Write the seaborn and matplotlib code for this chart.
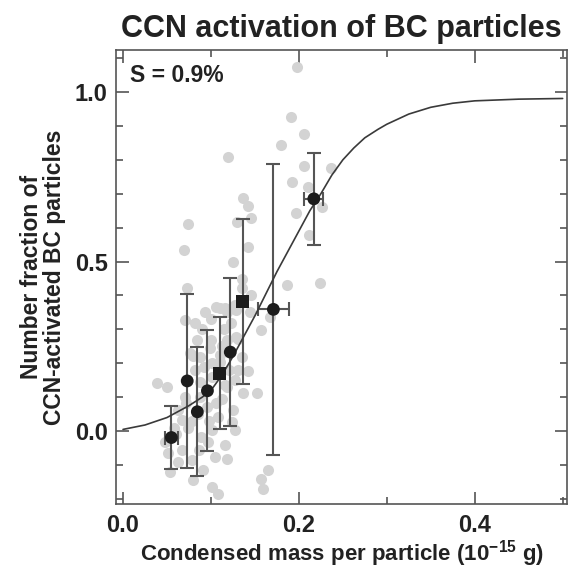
import matplotlib
matplotlib.use('Agg')
import matplotlib.pyplot as plt
import seaborn as sns
import numpy as np
import pandas as pd
from matplotlib.ticker import MultipleLocator

# 灰色散点（单个颗粒的观测值）
grey_x = [0.198, 0.191, 0.206, 0.180, 0.119, 0.206, 0.236, 0.192, 0.210, 0.137,
          0.142, 0.145, 0.130, 0.074, 0.197, 0.226, 0.212, 0.069, 0.142, 0.125,
          0.135, 0.224, 0.187, 0.073, 0.135, 0.146, 0.127, 0.144, 0.157, 0.167,
          0.131, 0.129, 0.118, 0.110, 0.093, 0.082, 0.070, 0.106, 0.118, 0.129,
          0.084, 0.099, 0.080, 0.110, 0.131, 0.118, 0.070, 0.101, 0.0875, 0.106,
          0.125, 0.067, 0.039, 0.050, 0.048, 0.051, 0.063, 0.053, 0.078, 0.086,
          0.080, 0.101, 0.108, 0.091, 0.105, 0.118, 0.116, 0.089, 0.101, 0.074,
          0.108, 0.124, 0.0875, 0.072, 0.063, 0.082, 0.101, 0.116, 0.127, 0.112,
          0.076, 0.0875, 0.110, 0.135, 0.142, 0.136, 0.152, 0.127, 0.165, 0.157,
          0.159, 0.067, 0.097, 0.116, 0.090, 0.100, 0.085, 0.095, 0.078, 0.060,
          0.115, 0.123, 0.100, 0.092, 0.112, 0.058, 0.120, 0.098]
grey_y = [1.075, 0.927, 0.876, 0.843, 0.807, 0.782, 0.777, 0.735, 0.721, 0.688,
          0.663, 0.629, 0.617, 0.611, 0.642, 0.660, 0.578, 0.534, 0.544, 0.498,
          0.450, 0.437, 0.431, 0.421, 0.421, 0.400, 0.372, 0.352, 0.297, 0.337,
          0.273, 0.357, 0.352, 0.362, 0.352, 0.318, 0.327, 0.367, 0.268, 0.278,
          0.268, 0.244, 0.222, 0.204, 0.180, 0.131, 0.101, 0.160, 0.145, 0.082,
          0.062, 0.032, 0.142, 0.131, -0.032, -0.066, -0.090, -0.120, -0.086, -0.056,
          -0.145, -0.164, -0.186, -0.115, -0.076, -0.081, -0.041, -0.017, 0.003, 0.008,
          0.042, 0.027, 0.101, 0.082, 0.062, 0.180, 0.200, 0.136, 0.150, 0.096,
          0.229, 0.219, 0.224, 0.219, 0.178, 0.113, 0.113, 0.003, -0.115, -0.140,
          -0.172, -0.056, -0.032, 0.362, 0.300, 0.330, 0.050, 0.070, 0.030, -0.010,
          0.300, 0.320, 0.270, 0.190, 0.250, 0.010, 0.180, 0.030]

# 分组平均值及误差
mean_x = [0.055, 0.073, 0.0845, 0.096, 0.110, 0.122, 0.136, 0.171, 0.217]
mean_y = [-0.019, 0.148, 0.057, 0.119, 0.171, 0.233, 0.383, 0.359, 0.685]
mean_yerr = [0.092, 0.257, 0.190, 0.178, 0.165, 0.218, 0.243, 0.430, 0.135]
mean_xerr = [0.0075, 0, 0, 0, 0, 0, 0, 0.018, 0.011]
mean_kind = ['circle', 'circle', 'circle', 'circle', 'square',
             'circle', 'square', 'circle', 'circle']

# 拟合曲线
fit_x = [0.0, 0.025, 0.05, 0.075, 0.09, 0.10, 0.1125, 0.125, 0.1375, 0.15,
         0.1625, 0.175, 0.1875, 0.20, 0.2125, 0.225, 0.2375, 0.25, 0.2625, 0.275,
         0.29, 0.30, 0.325, 0.35, 0.375, 0.40, 0.45, 0.50]
fit_y = [0.005, 0.018, 0.040, 0.075, 0.100, 0.120, 0.165, 0.220, 0.280, 0.340,
         0.405, 0.470, 0.530, 0.590, 0.650, 0.700, 0.755, 0.800, 0.835, 0.865,
         0.890, 0.905, 0.935, 0.955, 0.967, 0.974, 0.979, 0.981]

x_ticks = [0.0, 0.2, 0.4]
x_ticklabels = ['0.0', '0.2', '0.4']
y_ticks = [0.0, 0.5, 1.0]
y_ticklabels = ['0.0', '0.5', '1.0']

sns.set_style('ticks')
plt.rcParams['font.family'] = ['Liberation Sans', 'DejaVu Sans']
plt.rcParams['font.weight'] = 'bold'
plt.rcParams['mathtext.fontset'] = 'custom'
plt.rcParams['mathtext.rm'] = 'Liberation Sans:bold'
plt.rcParams['mathtext.bf'] = 'Liberation Sans:bold'
plt.rcParams['mathtext.default'] = 'bf'

edge = '#555555'
fig = plt.figure(figsize=(5.72, 5.70), dpi=100)
ax = fig.add_axes([0.2028, 0.1158, 0.7885, 0.7965])

grey_df = pd.DataFrame({'x': grey_x, 'y': grey_y})
sns.scatterplot(data=grey_df, x='x', y='y', color='#d3d3d3', s=64,
                linewidth=0, ax=ax, zorder=1)

fit_df = pd.DataFrame({'x': fit_x, 'y': fit_y})
sns.lineplot(data=fit_df, x='x', y='y', color='#3a3a3a', linewidth=1.2,
             sort=False, estimator=None, ax=ax, zorder=3)

# 误差棒
ax.errorbar(mean_x, mean_y, yerr=mean_yerr, fmt='none', ecolor=edge,
            elinewidth=1.5, capsize=5, capthick=1.5, zorder=2)
has_xerr = [i for i, v in enumerate(mean_xerr) if v > 0]
ax.errorbar([mean_x[i] for i in has_xerr], [mean_y[i] for i in has_xerr],
            xerr=[mean_xerr[i] for i in has_xerr], fmt='none', ecolor=edge,
            elinewidth=1.5, capsize=5, capthick=1.5, zorder=2)

mean_df = pd.DataFrame({'x': mean_x, 'y': mean_y, 'kind': mean_kind})
sns.scatterplot(data=mean_df, x='x', y='y', style='kind',
                markers={'circle': 'o', 'square': 's'}, color='#1c1c1c',
                s=85, linewidth=0, legend=False, ax=ax, zorder=4)

ax.set_xlim(-0.008, 0.505)
ax.set_ylim(-0.215, 1.124)
ax.set_xticks(x_ticks)
ax.set_xticklabels(x_ticklabels)
ax.set_yticks(y_ticks)
ax.set_yticklabels(y_ticklabels)
ax.xaxis.set_minor_locator(MultipleLocator(0.1))
ax.yaxis.set_minor_locator(MultipleLocator(0.1))
ax.tick_params(which='both', direction='in', top=True, right=True,
               color=edge, width=1.2, labelsize=17, labelcolor='#222222')
ax.tick_params(which='major', length=9)
ax.tick_params(which='minor', length=5)
ax.tick_params(axis='x', pad=7)
ax.tick_params(axis='y', pad=6)
for sp in ax.spines.values():
    sp.set_color(edge)
    sp.set_linewidth(1.2)

ax.set_xlabel('Condensed mass per particle (10$^{-15}$ g)', fontsize=16,
              fontweight='bold', color='#222222', labelpad=1)
ax.set_ylabel('Number fraction of\nCCN-activated BC particles', fontsize=16.5,
              fontweight='bold', color='#222222', labelpad=6, linespacing=1.05)
ax.set_title('CCN activation of BC particles', fontsize=22, fontweight='bold',
             color='#222222', pad=9)
ax.text(0.03, 0.97, 'S = 0.9%', transform=ax.transAxes, fontsize=16.5,
        fontweight='bold', color='#222222', va='top', ha='left')

fig.savefig('out.png', dpi=100)
